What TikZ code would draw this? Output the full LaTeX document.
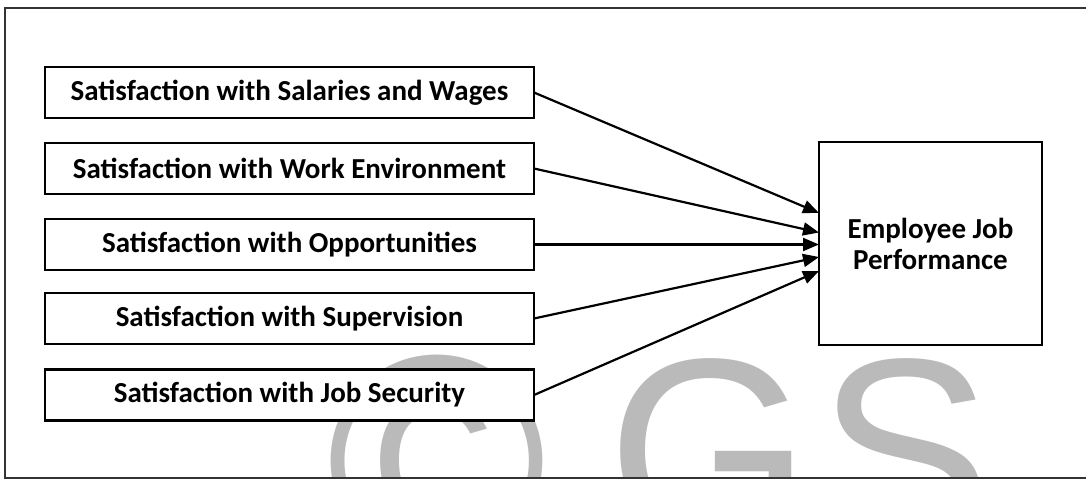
\documentclass[tikz,border=0pt]{standalone}
\usepackage{fontspec}
\setmainfont{Carlito}
\newfontfamily\wmfont{Liberation Sans}
\usetikzlibrary{arrows.meta}

\begin{document}
\begin{tikzpicture}[x=1pt,y=-1pt,
  factor/.style={draw=black, line width=2.6pt, fill=white,
    minimum width=489pt, minimum height=51pt, inner sep=0pt, outer sep=0pt,
    font=\fontsize{29}{34}\selectfont\bfseries},
  outcome/.style={draw=black, line width=2.6pt, fill=white,
    minimum width=223pt, minimum height=203pt, inner sep=0pt, outer sep=0pt,
    align=center, font=\fontsize{29}{31}\selectfont\bfseries},
  link/.style={line width=2.2pt, -{Triangle[length=16pt,width=13pt]}},
  frameline/.style={line width=2pt, draw=black!80},
  wmark/.style={text=black!27, inner sep=0pt, anchor=base,
    font=\wmfont\fontsize{262}{262}\selectfont}]
\useasboundingbox (0,0) rectangle (1086,479);

% faint watermark behind the diagram
\begin{scope}
  \clip (5,7.5) rectangle (1086,478);
  \node[wmark, anchor=center, font=\wmfont\fontsize{300}{300}\selectfont]
    (wmc) at (437,461) {©};
  \node[wmark] (wmg) at (709,541) {G};
  \node[wmark] (wms) at (905,541) {S};
\end{scope}

% outer frame
\draw[frameline] (1086,7.5) -- (5,7.5) -- (5,478) -- (1086,478);

% factor boxes
\node[factor] (s1) at (289.5,92.5)  {Satisfaction with Salaries and Wages};
\node[factor] (s2) at (289.5,168.5) {Satisfaction with Work Environment};
\node[factor] (s3) at (289.5,244.5) {Satisfaction with Opportunities};
\node[factor] (s4) at (289.5,318.5) {Satisfaction with Supervision};
\node[factor] (s5) at (289.5,395)   {Satisfaction with Job Security};

% outcome box
\node[outcome] (rb) at (930.5,243.5) {Employee Job\\Performance};

% arrow targets on the outcome box
\coordinate (t1) at (819,213);
\coordinate (t2) at (819,232.5);
\coordinate (t3) at (819,244.5);
\coordinate (t4) at (819,257);
\coordinate (t5) at (819,271);

\draw[link] (s1.east) -- (t1);
\draw[link] (s2.east) -- (t2);
\draw[link] (s3.east) -- (t3);
\draw[link] (s4.east) -- (t4);
\draw[link] (s5.east) -- (t5);
\end{tikzpicture}
\end{document}
